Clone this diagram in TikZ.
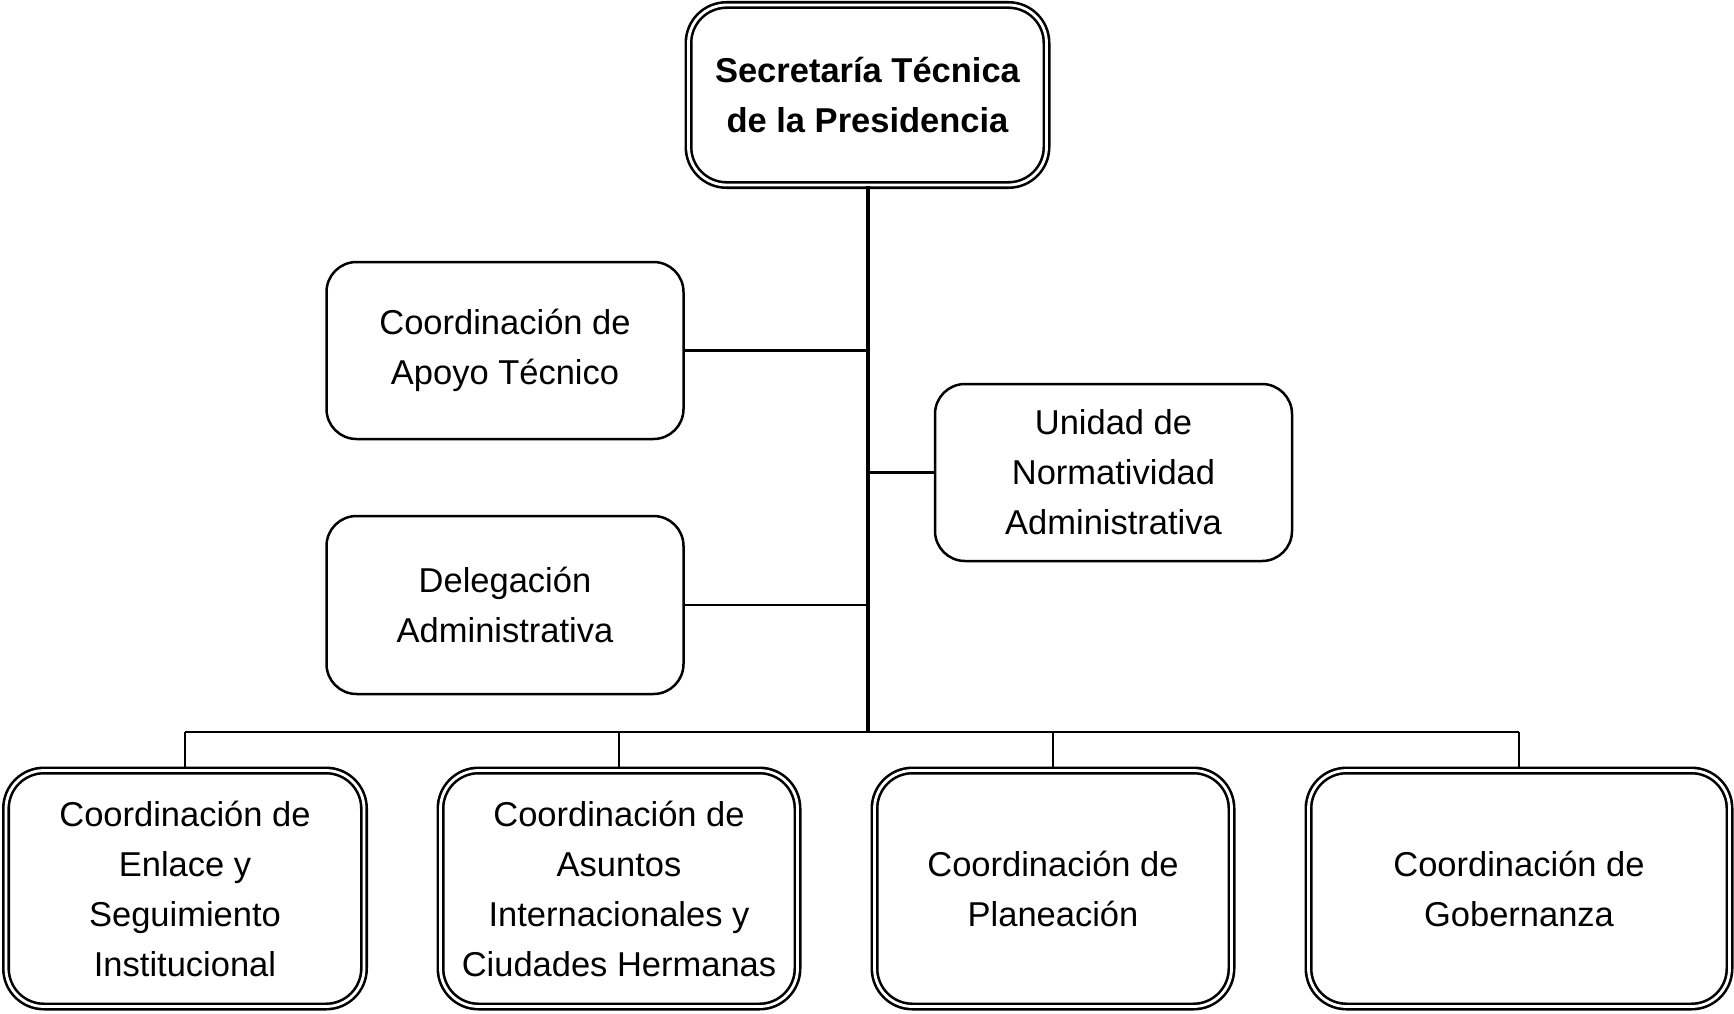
\documentclass[tikz,border=0pt]{standalone}
\usepackage{fontspec}
\setmainfont{Liberation Sans}
\begin{document}
\begin{tikzpicture}[x=1pt,y=-1pt,
  txt/.style={font=\fontsize{34.5}{50}\selectfont, align=center, inner sep=0pt},
  single/.style={txt, draw=black, line width=2.5pt, rounded corners=30pt, fill=white},
  dbl/.style={txt, draw=black, double=white, line width=2.6pt, double distance=2.8pt, rounded corners=38pt},
  thin/.style={draw=black, line width=2.7pt},
  thick/.style={draw=black, line width=4pt}]
\useasboundingbox (0,0) rectangle (1734,1014);
% nodes
\node[dbl, minimum width=358pt, minimum height=180pt, font=\fontsize{34.5}{50}\selectfont\bfseries] (top) at (867.5,95) {Secretaría Técnica\\de la Presidencia};
\node[single, minimum width=357pt, minimum height=177pt] (apoyo) at (505,350.5) {Coordinación de\\Apoyo Técnico};
\node[single, minimum width=357pt, minimum height=177pt] (unidad) at (1113.5,472.5) {Unidad de\\Normatividad\\Administrativa};
\node[single, minimum width=357pt, minimum height=178pt] (deleg) at (505,605) {Delegación\\Administrativa};
\node[dbl, minimum width=358pt, minimum height=236pt] (b1) at (185,888.5) {Coordinación de\\Enlace y\\Seguimiento\\Institucional};
\node[dbl, minimum width=357pt, minimum height=236pt] (b2) at (619,888.5) {Coordinación de\\Asuntos\\Internacionales y\\Ciudades Hermanas};
\node[dbl, minimum width=357pt, minimum height=236pt] (b3) at (1053,888.5) {Coordinación de\\Planeación};
\node[dbl, minimum width=421pt, minimum height=236pt] (b4) at (1519,888.5) {Coordinación de\\Gobernanza};
\coordinate (bus) at (867.5,732);
% connectors
\draw[thick] (top.south) -- (bus);
\draw[thin] (apoyo.east) -- (apoyo.east -| top.south);
\draw[thin] (unidad.west) -- (unidad.west -| top.south);
\draw[thin] (deleg.east) -- (deleg.east -| top.south);
\draw[thin] (b1.north |- bus) -- (b4.north |- bus);
\draw[thin] (b1.north) -- (b1.north |- bus);
\draw[thin] (b2.north) -- (b2.north |- bus);
\draw[thin] (b3.north) -- (b3.north |- bus);
\draw[thin] (b4.north) -- (b4.north |- bus);
\end{tikzpicture}
\end{document}
